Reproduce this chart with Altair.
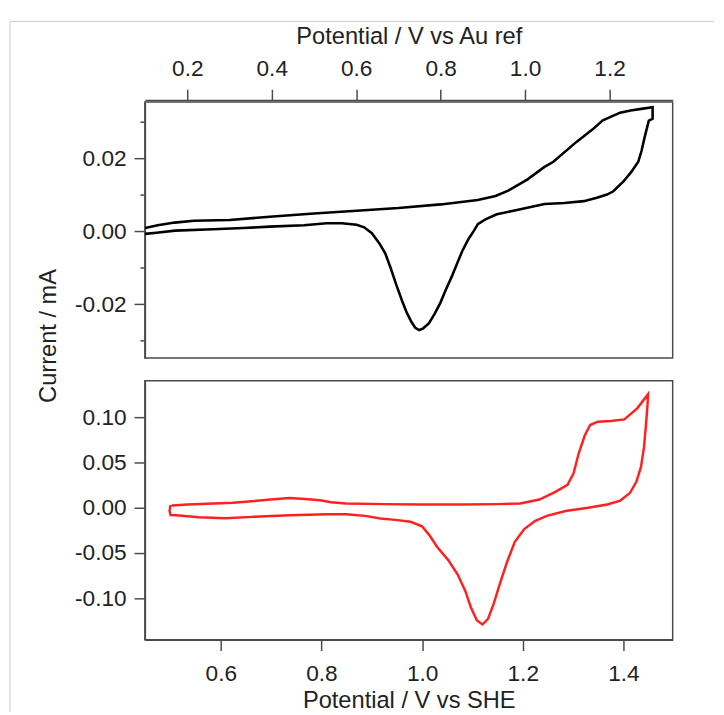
import altair as alt
import pandas as pd

# ---- top panel: black CV, potential vs Au ref (V), current (mA)
au_E = [0.100, 0.130, 0.170, 0.216, 0.300, 0.395, 0.500, 0.619, 0.700, 0.800,
        0.888, 0.930, 0.960, 1.005, 1.046, 1.067, 1.121, 1.160, 1.184, 1.225,
        1.250, 1.279, 1.302,
        1.302, 1.293, 1.283, 1.276, 1.268, 1.252, 1.233, 1.209, 1.194, 1.170,
        1.139, 1.093, 1.046, 0.978, 0.933, 0.906, 0.888, 0.879, 0.866, 0.852,
        0.839, 0.826, 0.812, 0.799, 0.785, 0.772, 0.758, 0.749, 0.740, 0.731,
        0.720, 0.709, 0.695, 0.682, 0.669, 0.655, 0.637, 0.619, 0.601, 0.566,
        0.530, 0.476, 0.395, 0.333, 0.261, 0.171, 0.127, 0.100]
au_I = [0.0009, 0.0017, 0.0024, 0.0029, 0.0031, 0.0040, 0.0049, 0.0058, 0.0064, 0.0074,
        0.0086, 0.0097, 0.0112, 0.0142, 0.0177, 0.0191, 0.0245, 0.0280, 0.0305, 0.0326,
        0.0332, 0.0337, 0.0341,
        0.0309, 0.0304, 0.0258, 0.0222, 0.0191, 0.0164, 0.0137, 0.0110, 0.0101, 0.0092,
        0.0083, 0.0078, 0.0075, 0.0058, 0.0047, 0.0033, 0.0020, 0.0002, -0.0021, -0.0052,
        -0.0088, -0.0125, -0.0161, -0.0197, -0.0228, -0.0253, -0.0267, -0.0271, -0.0265, -0.0249,
        -0.0224, -0.0192, -0.0147, -0.0102, -0.0061, -0.0033, -0.0005, 0.0011, 0.0018, 0.0022,
        0.0022, 0.0017, 0.0013, 0.0009, 0.0006, 0.0002, -0.0004, -0.0007]

# ---- bottom panel: red CV, potential vs SHE (V), current (mA)
she_E = [0.502, 0.504, 0.534, 0.586, 0.624, 0.662, 0.699, 0.737, 0.767, 0.797,
         0.819, 0.849, 0.925, 1.000, 1.075, 1.150, 1.195, 1.233, 1.263, 1.289,
         1.301, 1.311, 1.323, 1.334, 1.349, 1.375, 1.402, 1.428, 1.449,
         1.448, 1.445, 1.441, 1.435, 1.426, 1.413, 1.394, 1.368, 1.330, 1.285,
         1.248, 1.225, 1.203, 1.184, 1.169, 1.154, 1.142, 1.131, 1.120, 1.109,
         1.097, 1.086, 1.071, 1.052, 1.030, 1.015, 1.000, 0.977, 0.947, 0.917,
         0.887, 0.849, 0.812, 0.737, 0.662, 0.609, 0.556, 0.511, 0.500, 0.498,
         0.500]
she_I = [0.0030, 0.0025, 0.0036, 0.0047, 0.0054, 0.0072, 0.0090, 0.0108, 0.0097, 0.0083,
         0.0061, 0.0047, 0.0040, 0.0036, 0.0036, 0.0040, 0.0047, 0.0090, 0.0170, 0.0253,
         0.0379, 0.0596, 0.0794, 0.0913, 0.0950, 0.0957, 0.0975, 0.1100, 0.1253,
         0.1137, 0.0920, 0.0668, 0.0451, 0.0289, 0.0162, 0.0079, 0.0036, 0.0000, -0.0036,
         -0.0090, -0.0144, -0.0235, -0.0379, -0.0596, -0.0848, -0.1065, -0.1227, -0.1289, -0.1245,
         -0.1101, -0.0921, -0.0740, -0.0578, -0.0433, -0.0307, -0.0206, -0.0155, -0.0134, -0.0119,
         -0.0090, -0.0072, -0.0072, -0.0083, -0.0101, -0.0116, -0.0105, -0.0083, -0.0080, -0.0036,
         0.0030]

top_x_ticks = [0.2, 0.4, 0.6, 0.8, 1.0, 1.2]
top_y_ticks = [-0.03, -0.02, -0.01, 0.0, 0.01, 0.02, 0.03]
bot_x_ticks = [0.6, 0.8, 1.0, 1.2, 1.4]
bot_y_ticks = [-0.10, -0.05, 0.0, 0.05, 0.10]

top_df = pd.DataFrame({"E": au_E, "I": au_I, "k": list(range(len(au_E)))})
bot_df = pd.DataFrame({"E": she_E, "I": she_I, "k": list(range(len(she_E)))})

FONT = "Liberation Sans"
LAB = 23
TIT = 24
W = 536

signed = "(datum.value < -1e-9 ? '-' : '') + format(abs(datum.value), '.2f')"

top_line = alt.Chart(top_df).mark_line(color="#000000", strokeWidth=2.6, clip=True).encode(
    x=alt.X("E:Q",
            scale=alt.Scale(domain=[0.0995, 1.3495], nice=False, zero=False),
            axis=alt.Axis(orient="top", values=top_x_ticks, format=".1f",
                          title="Potential / V vs Au ref", offset=2,
                          tickSize=11, labelPadding=9, titlePadding=9,
                          labelFlush=False)),
    y=alt.Y("I:Q",
            scale=alt.Scale(domain=[-0.0348, 0.0355], nice=False, zero=False),
            axis=alt.Axis(values=top_y_ticks,
                          labelExpr="round(datum.value*100) % 2 != 0 ? '' : " + signed,
                          tickSize={"condition": {"test": "round(datum.value*100) % 2 != 0", "value": 5}, "value": 11},
                          labelPadding=8,
                          title="Current / mA", titleX=-98, titleY=237,
                          titleBaseline="middle")),
    order="k:Q",
)

border_v = alt.Chart(alt.Data(values=[{}])).mark_rule(color="#c8c8c8", strokeWidth=1).encode(
    x=alt.value(-137), y=alt.value(-82), y2=alt.value(619))
border_h = alt.Chart(alt.Data(values=[{}])).mark_rule(color="#c8c8c8", strokeWidth=1).encode(
    x=alt.value(-137), x2=alt.value(578), y=alt.value(-82))

top = alt.layer(border_v, border_h, top_line).properties(width=W, height=260)

bottom = alt.Chart(bot_df).mark_line(color="#ff2020", strokeWidth=2.5, clip=True).encode(
    x=alt.X("E:Q",
            scale=alt.Scale(domain=[0.449, 1.498], nice=False, zero=False),
            axis=alt.Axis(values=bot_x_ticks, format=".1f",
                          title="Potential / V vs SHE",
                          tickSize=11, labelPadding=12, titlePadding=4,
                          labelFlush=False)),
    y=alt.Y("I:Q",
            scale=alt.Scale(domain=[-0.1457, 0.1402], nice=False, zero=False),
            axis=alt.Axis(values=bot_y_ticks, labelExpr=signed,
                          tickSize=11, labelPadding=8, title=None)),
    order="k:Q",
).properties(width=W, height=263)

chart = alt.vconcat(top, bottom, spacing=23, bounds="flush").properties(
    padding={"left": 0, "top": 6, "right": 0, "bottom": 0}
).configure_view(
    stroke="#4a4a4a", strokeWidth=1.5
).configure_axis(
    grid=False,
    domainColor="#4a4a4a", domainWidth=1.5,
    tickColor="#4a4a4a", tickWidth=1.5,
    labelColor="#222222", titleColor="#222222",
    labelFont=FONT, titleFont=FONT,
    labelFontSize=LAB, titleFontSize=TIT,
    titleFontWeight="normal",
)

chart.save("out.html", embed_options={"renderer": "svg", "actions": False})
